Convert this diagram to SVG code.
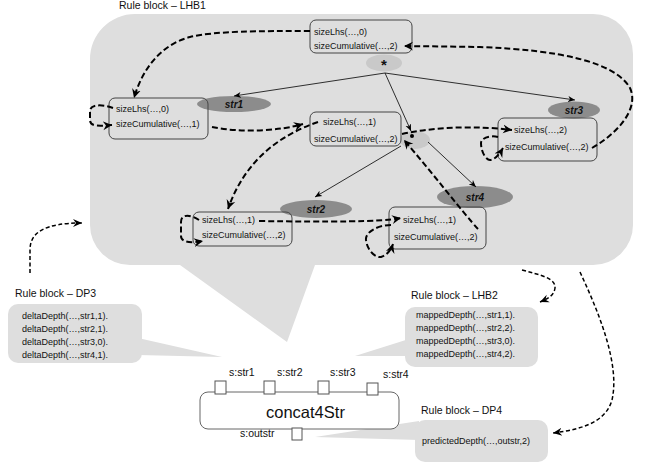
<svg xmlns="http://www.w3.org/2000/svg" width="648" height="465" viewBox="0 0 648 465">
<style>
text{font-family:"Liberation Sans",Arial,sans-serif;fill:#111}
.t{font-size:9px}
.lbl{font-size:10.5px}
.r{font-size:9px}
.s{font-size:10px;font-weight:bold;font-style:italic;text-anchor:middle}
.node{fill:none;stroke:#444;stroke-width:1}
.callout{fill:#dedede}
.sel{fill:#8c8c8c}
.lel{fill:#c9c9c9}
.dash{fill:none;stroke:#000;stroke-width:2;stroke-dasharray:6,3;marker-end:url(#ah)}
.xdash{fill:none;stroke:#000;stroke-width:1.5;stroke-dasharray:4,2.5;marker-end:url(#ah2)}
.sol{fill:none;stroke:#000;stroke-width:0.8;marker-end:url(#as)}
.port{fill:#fff;stroke:#555;stroke-width:1}
</style>
<defs>
<marker id="ah" markerUnits="userSpaceOnUse" markerWidth="10" markerHeight="10" refX="9" refY="5" orient="auto"><path d="M0,0.5 L9,5 L0,9.5 L3,5 Z" fill="#000"/></marker>
<marker id="ah2" markerUnits="userSpaceOnUse" markerWidth="10" markerHeight="10" refX="9" refY="5" orient="auto"><path d="M0,1 L9,5 L0,9 L3,5 Z" fill="#000"/></marker>
<marker id="as" markerUnits="userSpaceOnUse" markerWidth="8" markerHeight="8" refX="7" refY="4" orient="auto"><path d="M0,1 L7,4 L0,7 L2,4 Z" fill="#000"/></marker>
</defs>

<g id="LHB1-block">
<text class="lbl" x="119" y="9">Rule block – LHB1</text>
<path class="callout" d="M135,14 H593 A40,40 0 0 1 633,54 V225 A40,40 0 0 1 593,265 H315 L287,342 L180,265 H130 A40,40 0 0 1 90,225 V59 A45,45 0 0 1 135,14 Z"/>
</g>

<g id="DP3-block">
<text class="lbl" x="15" y="297">Rule block – DP3</text>
<path class="callout" d="M138,338 L222,357 L138,355 Z"/>
<rect class="callout" x="8" y="304" width="134" height="59" rx="10"/>
<text class="r" x="22" y="319">deltaDepth(…,str1,1).</text>
<text class="r" x="22" y="332">deltaDepth(…,str2,1).</text>
<text class="r" x="22" y="345">deltaDepth(…,str3,0).</text>
<text class="r" x="22" y="358">deltaDepth(…,str4,1).</text>
</g>

<g id="LHB2-block">
<text class="lbl" x="411" y="299">Rule block – LHB2</text>
<path class="callout" d="M409,339 L355,356 L409,356 Z"/>
<rect class="callout" x="405" y="307" width="133" height="60" rx="10"/>
<text class="r" x="416" y="318">mappedDepth(…,str1,1).</text>
<text class="r" x="416" y="331">mappedDepth(…,str2,2).</text>
<text class="r" x="416" y="344">mappedDepth(…,str3,0).</text>
<text class="r" x="416" y="357">mappedDepth(…,str4,2).</text>
</g>

<g id="DP4-block">
<text class="lbl" x="421" y="414">Rule block – DP4</text>
<path class="callout" d="M419,421 L315,437 L419,440 Z"/>
<rect class="callout" x="415" y="420" width="133" height="42" rx="10"/>
<text class="r" x="422" y="444">predictedDepth(…,outstr,2)</text>
</g>

<g id="concat4Str">
<rect x="200" y="392" width="199" height="37" rx="8" fill="#fff" stroke="#666" stroke-width="1"/>
<rect class="port" x="215" y="381" width="11" height="13"/>
<rect class="port" x="264" y="381" width="11" height="13"/>
<rect class="port" x="318" y="381" width="11" height="13"/>
<rect class="port" x="367" y="383" width="11" height="12"/>
<rect class="port" x="292" y="428" width="10" height="12"/>
<text x="266" y="418" style="font-size:16.5px">concat4Str</text>
<text class="lbl" x="229" y="376">s:str1</text>
<text class="lbl" x="277" y="376">s:str2</text>
<text class="lbl" x="330" y="376">s:str3</text>
<text class="lbl" x="383" y="378">s:str4</text>
<text class="lbl" x="240" y="437">s:outstr</text>
</g>

<g id="ellipses">
<ellipse class="lel" cx="384" cy="63" rx="18" ry="8.5"/>
<text x="384" y="70" style="font-size:15px;font-weight:bold;text-anchor:middle">*</text>
<ellipse class="lel" cx="415" cy="140" rx="15" ry="9"/>
<ellipse class="sel" cx="234" cy="104" rx="37" ry="8"/>
<text class="s" x="234" y="107.5">str1</text>
<ellipse class="sel" cx="574" cy="110" rx="26" ry="8.5"/>
<text class="s" x="574" y="113.5">str3</text>
<ellipse class="sel" cx="316" cy="209" rx="36" ry="9"/>
<text class="s" x="316" y="212.5">str2</text>
<ellipse class="sel" cx="475" cy="197" rx="38" ry="11"/>
<text class="s" x="475" y="200.5">str4</text>
</g>

<g id="nodeA">
<rect class="node" x="310" y="20" width="102" height="33" rx="6"/>
<text class="t" x="314" y="35">sizeLhs(…,0)</text>
<text class="t" x="314" y="49">sizeCumulative(…,2)</text>
</g>
<g id="nodeB">
<rect class="node" x="109" y="98" width="99" height="41" rx="6"/>
<text class="t" x="116" y="112">sizeLhs(…,0)</text>
<text class="t" x="116" y="127">sizeCumulative(…,1)</text>
</g>
<g id="nodeC">
<rect class="node" x="310" y="112" width="91" height="34" rx="6"/>
<text class="t" x="323" y="125">sizeLhs(…,1)</text>
<text class="t" x="314" y="142">sizeCumulative(…,2)</text>
</g>
<g id="nodeD">
<rect class="node" x="498" y="118" width="99" height="43" rx="6"/>
<text class="t" x="514" y="133">sizeLhs(…,2)</text>
<text class="t" x="505" y="150">sizeCumulative(…,2)</text>
</g>
<g id="nodeE">
<rect class="node" x="193" y="212" width="99" height="34" rx="6"/>
<text class="t" x="202" y="223">sizeLhs(…,1)</text>
<text class="t" x="202" y="238">sizeCumulative(…,2)</text>
</g>
<g id="nodeF">
<rect class="node" x="389" y="207" width="97" height="42" rx="6"/>
<text class="t" x="403" y="223">sizeLhs(…,1)</text>
<text class="t" x="394" y="240">sizeCumulative(…,2)</text>
</g>

<g id="connectors">
<path class="sol" d="M385,73 L234,96"/>
<path class="sol" d="M385,73 L575,100"/>
<path class="sol" d="M385,73 L411,131"/>
<path class="sol" d="M401,146 L315,197"/>
<path class="sol" d="M428,142 L476,187"/>
<circle cx="412" cy="136" r="2" fill="#000"/>

<path class="dash" d="M310,31 C260,31 215,31 190,37 C160,45 142,70 134,98"/>
<path class="dash" d="M113,108 C102,104 89,104 90,112 L90,120 C90,127 100,126 112,125"/>
<path class="dash" d="M212,127 C240,133 280,131 303,124"/>
<path class="dash" d="M318,122 C280,135 245,160 228,209"/>
<path class="dash" d="M199,220 C190,214 181,214 181,222 L181,236 C181,243 192,243 203,241"/>
<path class="dash" d="M259,221 C330,222 380,222 401,218"/>
<path class="dash" d="M391,225 C378,225 365,232 366,240 C367,250 375,258 381,257 C387,255 391,250 393,244"/>
<path class="dash" d="M478,229 C465,215 430,170 404,140"/>
<path class="dash" d="M402,134 C440,126 480,126 512,130"/>
<path class="dash" d="M498,137 C490,135 481,138 481,143 C481,152 486,160 490,160 C495,160 500,153 503,148"/>
<path class="dash" d="M592,148 C615,135 640,110 630,88 C615,62 560,50 480,47 L404,46"/>

<path class="xdash" d="M30,273 L30,250 C30,232 45,223 82,223"/>
<path class="xdash" d="M522,270 C540,275 556,278 555,288 C554,296 547,299 540,302"/>
<path class="xdash" d="M580,272 C600,315 620,365 612,400 C605,425 575,430 553,433"/>
</g>
</svg>
